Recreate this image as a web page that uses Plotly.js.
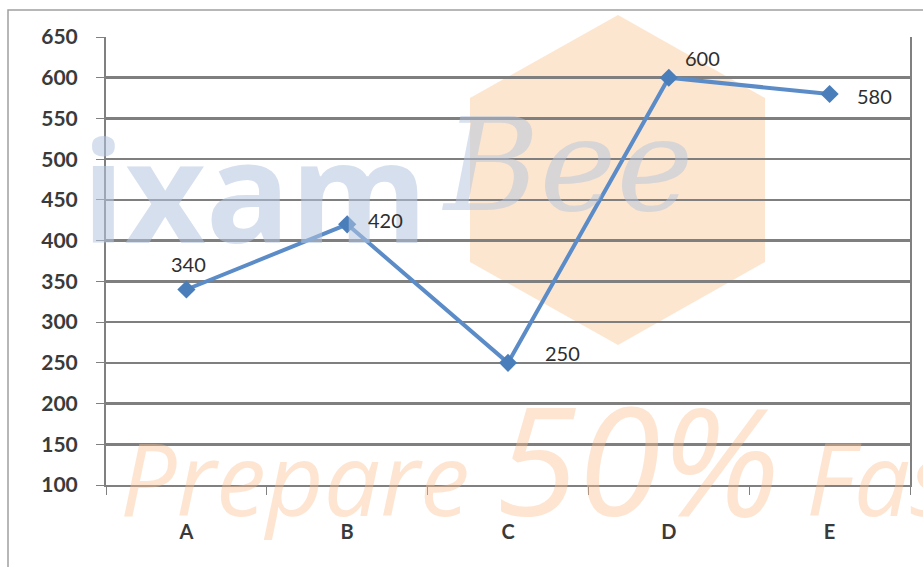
<!DOCTYPE html>
<html>
<head>
<meta charset="utf-8">
<script src="https://cdn.plot.ly/plotly-3.0.1.min.js"></script>
<style>
  html, body { margin: 0; padding: 0; background: #fff; }
  #myDiv { width: 923px; height: 567px; }
</style>
</head>
<body>
<div id="myDiv"></div>
<script>
var categories = ['A', 'B', 'C', 'D', 'E'];
var values = [340, 420, 250, 600, 580];
var yTicks = [100, 150, 200, 250, 300, 350, 400, 450, 500, 550, 600, 650];
// label offsets in pixels (x, y) from each point
var labelDx = [2, 38, 54, 34, 45];
var labelDy = [26, 4, 10, 20, -2];

var data = [{
  x: categories,
  y: values,
  type: 'scatter',
  mode: 'lines+markers',
  line: {color: '#5b8cc8', width: 4},
  marker: {symbol: 'diamond', size: 14, color: '#4a7ebb'},
  cliponaxis: false,
  hoverinfo: 'x+y'
}];

// pixel helpers for the watermark, plot area is 106..910 x 37..485
function px(x) { return (x - 106) / 804; }
function py(y) { return (485 - y) / 448; }

var notes = categories.map(function (c, i) {
  return {x: c, y: values[i], xref: 'x', yref: 'y', text: String(values[i]), showarrow: false,
    xshift: labelDx[i], yshift: labelDy[i],
    font: {family: 'Lato, "Open Sans", sans-serif', size: 20, color: '#2e2e2e'}};
});

var layout = {
  width: 923,
  height: 567,
  margin: {l: 106, r: 13, t: 37, b: 82},
  paper_bgcolor: '#ffffff',
  plot_bgcolor: 'rgba(0,0,0,0)',
  showlegend: false,
  font: {family: 'Lato, "Open Sans", sans-serif', color: '#404040'},
  xaxis: {
    type: 'category',
    range: [-0.5, 4.5],
    showline: true,
    linecolor: '#808080',
    linewidth: 2,
    ticks: 'outside',
    tickson: 'boundaries',
    ticklen: 8,
    tickcolor: '#808080',
    showgrid: false,
    ticklabelstandoff: 28,
    tickfont: {size: 20, color: '#3a3a3a', weight: 'bold'},
    fixedrange: true
  },
  yaxis: {
    range: [100, 650],
    tickvals: yTicks,
    showline: true,
    mirror: true,
    linecolor: '#808080',
    linewidth: 2,
    ticks: 'outside',
    ticklen: 8,
    tickcolor: '#808080',
    gridcolor: '#7f7f7f',
    gridwidth: 2.5,
    zeroline: false,
    ticklabelstandoff: 14,
    tickfont: {size: 21, color: '#3a3a3a', weight: 'bold'},
    fixedrange: true
  },
  shapes: [
    {type: 'rect', xref: 'paper', yref: 'paper', layer: 'below',
     x0: px(8), x1: px(940), y0: py(10), y1: py(600),
     line: {color: '#a0a0a0', width: 1.5}, fillcolor: 'rgba(0,0,0,0)'},
    {type: 'path', xref: 'paper', yref: 'paper', layer: 'below',
     path: 'M' + px(618) + ',' + py(15) + ' L' + px(765) + ',' + py(98) +
           ' L' + px(765) + ',' + py(262) + ' L' + px(618) + ',' + py(345) +
           ' L' + px(470) + ',' + py(262) + ' L' + px(470) + ',' + py(98) + ' Z',
     line: {width: 0}, fillcolor: 'rgba(251,200,150,0.45)'}
  ],
  annotations: [
    {xref: 'paper', yref: 'paper', x: px(80), y: py(188), xanchor: 'left', yanchor: 'middle',
     text: '<b>ixam</b>', showarrow: false,
     font: {family: '"Open Sans", sans-serif', size: 140, color: 'rgba(180,196,222,0.55)'}},
    {xref: 'paper', yref: 'paper', x: px(440), y: py(165), xanchor: 'left', yanchor: 'middle',
     text: '<i>Bee</i>', showarrow: false,
     font: {family: '"DejaVu Serif", serif', size: 130, color: 'rgba(180,196,222,0.5)'}},
    {xref: 'paper', yref: 'paper', x: px(118), y: py(458), xanchor: 'left', yanchor: 'middle',
     text: '<i>Prepare <span style="font-size:150px">50%</span> Faster</i>', showarrow: false,
     font: {family: '"Open Sans", sans-serif', size: 100, color: 'rgba(251,190,140,0.4)'}}
  ].concat(notes)
};

Plotly.newPlot('myDiv', data, layout, {displayModeBar: false, staticPlot: true});
</script>
</body>
</html>
